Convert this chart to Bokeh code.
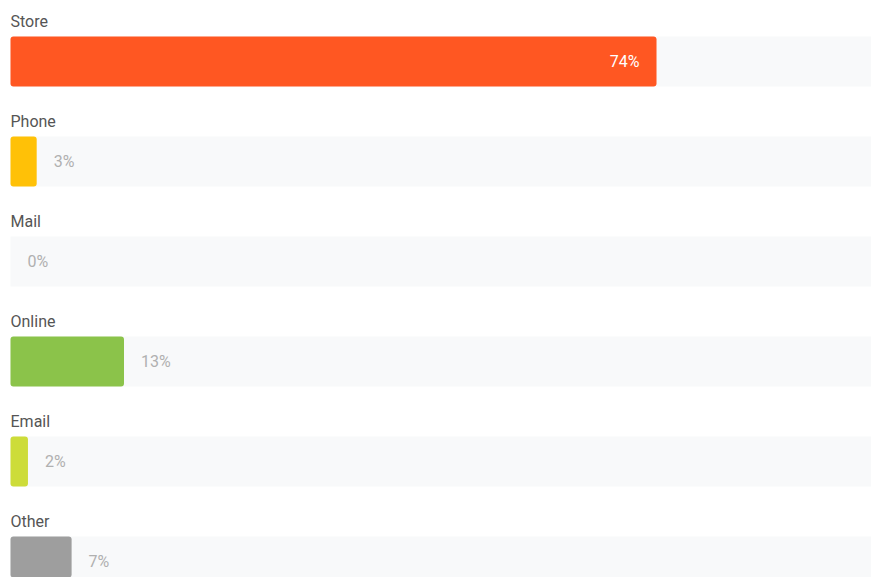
from bokeh.plotting import figure
from bokeh.models import Range1d, ColumnDataSource
from bokeh.core.properties import value
from bokeh.embed import file_html
from bokeh.resources import INLINE

categories = ["Store", "Phone", "Mail", "Online", "Email", "Other"]
percents = [74, 3, 0, 13, 2, 7]
colors = ["#ff5722", "#ffc107", "#9e9e9e", "#8bc34a", "#cddc39", "#9e9e9e"]

W, H = 871, 577
left_px = 10
px_per_pct = 8.73
row_pitch = 100
first_bar_center = 61
bar_h = 50

x_start = -left_px / px_per_pct
x_end = (W - left_px) / px_per_pct

p = figure(width=W, height=H, output_backend="svg", toolbar_location=None,
           x_range=Range1d(x_start, x_end), y_range=Range1d(H, 0),
           min_border=0, min_border_left=0, min_border_right=0,
           min_border_top=0, min_border_bottom=0)
p.axis.visible = False
p.grid.visible = False
p.outline_line_color = None
p.background_fill_color = "white"
p.border_fill_color = "white"

ys = [first_bar_center + row_pitch * i for i in range(len(categories))]
label_ys = [y - 40 for y in ys]

src = ColumnDataSource(dict(y=ys, v=percents, c=colors, cat=categories, ly=label_ys,
                            full=[100] * len(categories), zero=[0] * len(categories)))

# background track
p.hbar(y="y", left="zero", right="full", height=bar_h, source=src,
       fill_color="#f8f9fa", line_color=None)
# bars
p.hbar(y="y", left="zero", right="v", height=bar_h, source=src,
       fill_color="c", line_color=None, border_radius=3)

# category labels
p.text(x="zero", y="ly", text="cat", source=src,
       text_font=value("Roboto"), text_font_size="16px", text_color="#555555",
       text_baseline="middle", text_align="left")

# percent labels
off = 17 / px_per_pct
in_x, in_y, in_t, out_x, out_y, out_t = [], [], [], [], [], []
for v, y in zip(percents, ys):
    if v > 50:
        in_x.append(v - off); in_y.append(y); in_t.append(f"{v}%")
    else:
        out_x.append(v + off); out_y.append(y); out_t.append(f"{v}%")

p.text(x=in_x, y=in_y, text=in_t, text_font=value("Roboto"), text_font_size="16px",
       text_color="#ffffff", text_baseline="middle", text_align="right")
p.text(x=out_x, y=out_y, text=out_t, text_font=value("Roboto"), text_font_size="16px",
       text_color="#b0b0b0", text_baseline="middle", text_align="left")

open("out.html", "w").write(file_html(p, INLINE))
